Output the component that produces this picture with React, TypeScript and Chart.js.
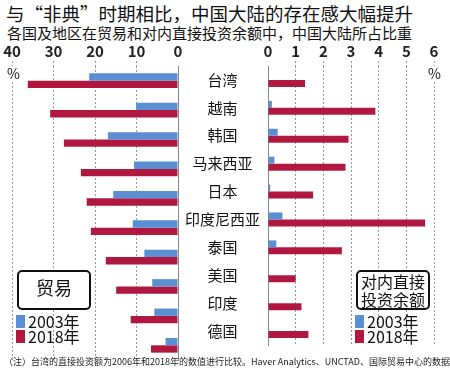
import React, { useEffect, useRef } from 'react';
import { Chart, registerables } from 'chart.js';
Chart.register(...registerables);

const categories = ['台湾', '越南', '韩国', '马来西亚', '日本', '印度尼西亚', '泰国', '美国', '印度', '德国'];
const seriesNames = ['2003年', '2018年'];
const trade2003 = [21.4, 10.1, 16.9, 10.6, 15.6, 10.9, 8.1, 6.2, 5.7, 3.0];
const trade2018 = [36.2, 30.8, 27.5, 23.4, 22.0, 21.0, 17.4, 14.9, 11.4, 6.5];
const fdi2003 = [0, 0.14, 0.35, 0.23, 0.08, 0.52, 0.3, 0, 0, 0];
const fdi2018 = [1.34, 3.88, 2.91, 2.8, 1.63, 5.68, 2.67, 1.0, 1.21, 1.46];
const tradeMax = 40;
const fdiMax = 6;
const tradeStep = 10;
const fdiStep = 1;

const BLUE = '#5b8fd4';
const RED = '#b01840';
const FONT = '"Noto Sans CJK SC", "Noto Sans", sans-serif';

function xAxis(max: number, step: number, reverse: boolean): any {
  const gridColor = (ctx: any) => (ctx.tick && ctx.tick.value === 0 ? 'rgba(0,0,0,0)' : '#9a9a9a');
  return {
    type: 'linear',
    position: 'top',
    min: 0,
    max,
    reverse,
    border: { display: false, dash: [2, 2] },
    grid: {
      color: gridColor,
      lineWidth: 1,
      tickLength: 5,
      tickColor: gridColor,
      tickBorderDash: [2, 2],
    },
    ticks: {
      stepSize: step,
      padding: 1,
      color: '#222',
      font: { family: FONT, size: 15, weight: 'bold' },
      maxRotation: 0,
      autoSkip: false,
    },
    afterFit: (s: any) => { s.height = 26; },
  };
}

function makeDatasets(a: number[], b: number[]) {
  return [
    { label: seriesNames[0], data: a, backgroundColor: BLUE, categoryPercentage: 0.5, barPercentage: 1.0 },
    { label: seriesNames[1], data: b, backgroundColor: RED, categoryPercentage: 0.5, barPercentage: 1.0 },
  ];
}

export default function App() {
  const leftRef = useRef<HTMLCanvasElement>(null);
  const rightRef = useRef<HTMLCanvasElement>(null);

  useEffect(() => {
    document.body.style.margin = '0';
    const left = new Chart(leftRef.current!, {
      type: 'bar',
      data: { labels: categories, datasets: makeDatasets(trade2003, trade2018) },
      options: {
        indexAxis: 'y',
        animation: false,
        responsive: false,
        maintainAspectRatio: false,
        layout: { padding: { left: 12, right: 12, top: 0, bottom: 2 } },
        plugins: { legend: { display: false }, tooltip: { enabled: false } },
        scales: {
          x: xAxis(tradeMax, tradeStep, true),
          y: {
            position: 'right',
            ticks: { display: false },
            grid: { display: false, drawTicks: false },
            border: { display: true, color: '#888', width: 1 },
            afterFit: (s: any) => { s.width = 0; },
          },
        },
      } as any,
    });
    const right = new Chart(rightRef.current!, {
      type: 'bar',
      data: { labels: categories, datasets: makeDatasets(fdi2003, fdi2018) },
      options: {
        indexAxis: 'y',
        animation: false,
        responsive: false,
        maintainAspectRatio: false,
        layout: { padding: { left: 0, right: 16, top: 0, bottom: 2 } },
        plugins: { legend: { display: false }, tooltip: { enabled: false } },
        scales: {
          x: xAxis(fdiMax, fdiStep, false),
          y: {
            position: 'left',
            ticks: {
              color: '#111',
              font: { family: FONT, size: 15 },
              crossAlign: 'center',
              padding: 8,
            },
            grid: { display: false, drawTicks: false },
            border: { display: true, color: '#888', width: 1 },
            afterFit: (s: any) => { s.width = 88; },
          },
        },
      } as any,
    });
    return () => {
      left.destroy();
      right.destroy();
    };
  }, []);

  const abs = (style: React.CSSProperties): React.CSSProperties => ({ position: 'absolute', fontFamily: FONT, color: '#111', whiteSpace: 'nowrap', lineHeight: 1, ...style });
  const swatch = (color: string, left: number, top: number) => (
    <div style={{ position: 'absolute', left, top, width: 9, height: 13, background: color }} />
  );

  return (
    <div style={{ position: 'relative', width: 450, height: 372, overflow: 'hidden', background: '#fff' }}>
      <div style={abs({ left: 6, top: 4, fontSize: 18.5 })}>与“非典”时期相比，中国大陆的存在感大幅提升</div>
      <div style={abs({ left: 7, top: 25, fontSize: 15 })}>各国及地区在贸易和对内直接投资余额中，中国大陆所占比重</div>
      <canvas ref={leftRef} width={190} height={322} style={{ position: 'absolute', left: 0, top: 40, width: 190, height: 322 }} />
      <canvas ref={rightRef} width={270} height={322} style={{ position: 'absolute', left: 180, top: 40, width: 270, height: 322 }} />
      <div style={abs({ left: 6, top: 66, fontSize: 14, background: '#fff', padding: '0 1px' })}>%</div>
      <div style={abs({ left: 427, top: 66, fontSize: 14, background: '#fff', padding: '0 1px' })}>%</div>

      <div style={{ position: 'absolute', left: 17, top: 270, width: 70, height: 36, border: '2px solid #111', borderRadius: 5, background: '#fff', boxSizing: 'content-box' }} />
      <div style={abs({ left: 17, top: 278, width: 74, textAlign: 'center', fontSize: 18 })}>贸易</div>
      {swatch(BLUE, 16, 315)}
      {swatch(RED, 16, 330)}
      <div style={abs({ left: 28, top: 313, fontSize: 16 })}>{seriesNames[0]}</div>
      <div style={abs({ left: 28, top: 328, fontSize: 16 })}>{seriesNames[1]}</div>

      <div style={{ position: 'absolute', left: 356, top: 270, width: 70, height: 36, border: '2px solid #111', borderRadius: 5, background: '#fff', boxSizing: 'content-box' }} />
      <div style={abs({ left: 356, top: 273, width: 74, textAlign: 'center', fontSize: 16, lineHeight: 1.1 })}>对内直接<br />投资余额</div>
      {swatch(BLUE, 355, 315)}
      {swatch(RED, 355, 330)}
      <div style={abs({ left: 367, top: 313, fontSize: 16 })}>{seriesNames[0]}</div>
      <div style={abs({ left: 367, top: 328, fontSize: 16 })}>{seriesNames[1]}</div>

      <div style={abs({ left: 4, top: 357, fontSize: 9, color: '#222' })}>（注）台湾的直接投资额为2006年和2018年的数值进行比较。Haver Analytics、UNCTAD、国际贸易中心的数据</div>
    </div>
  );
}
